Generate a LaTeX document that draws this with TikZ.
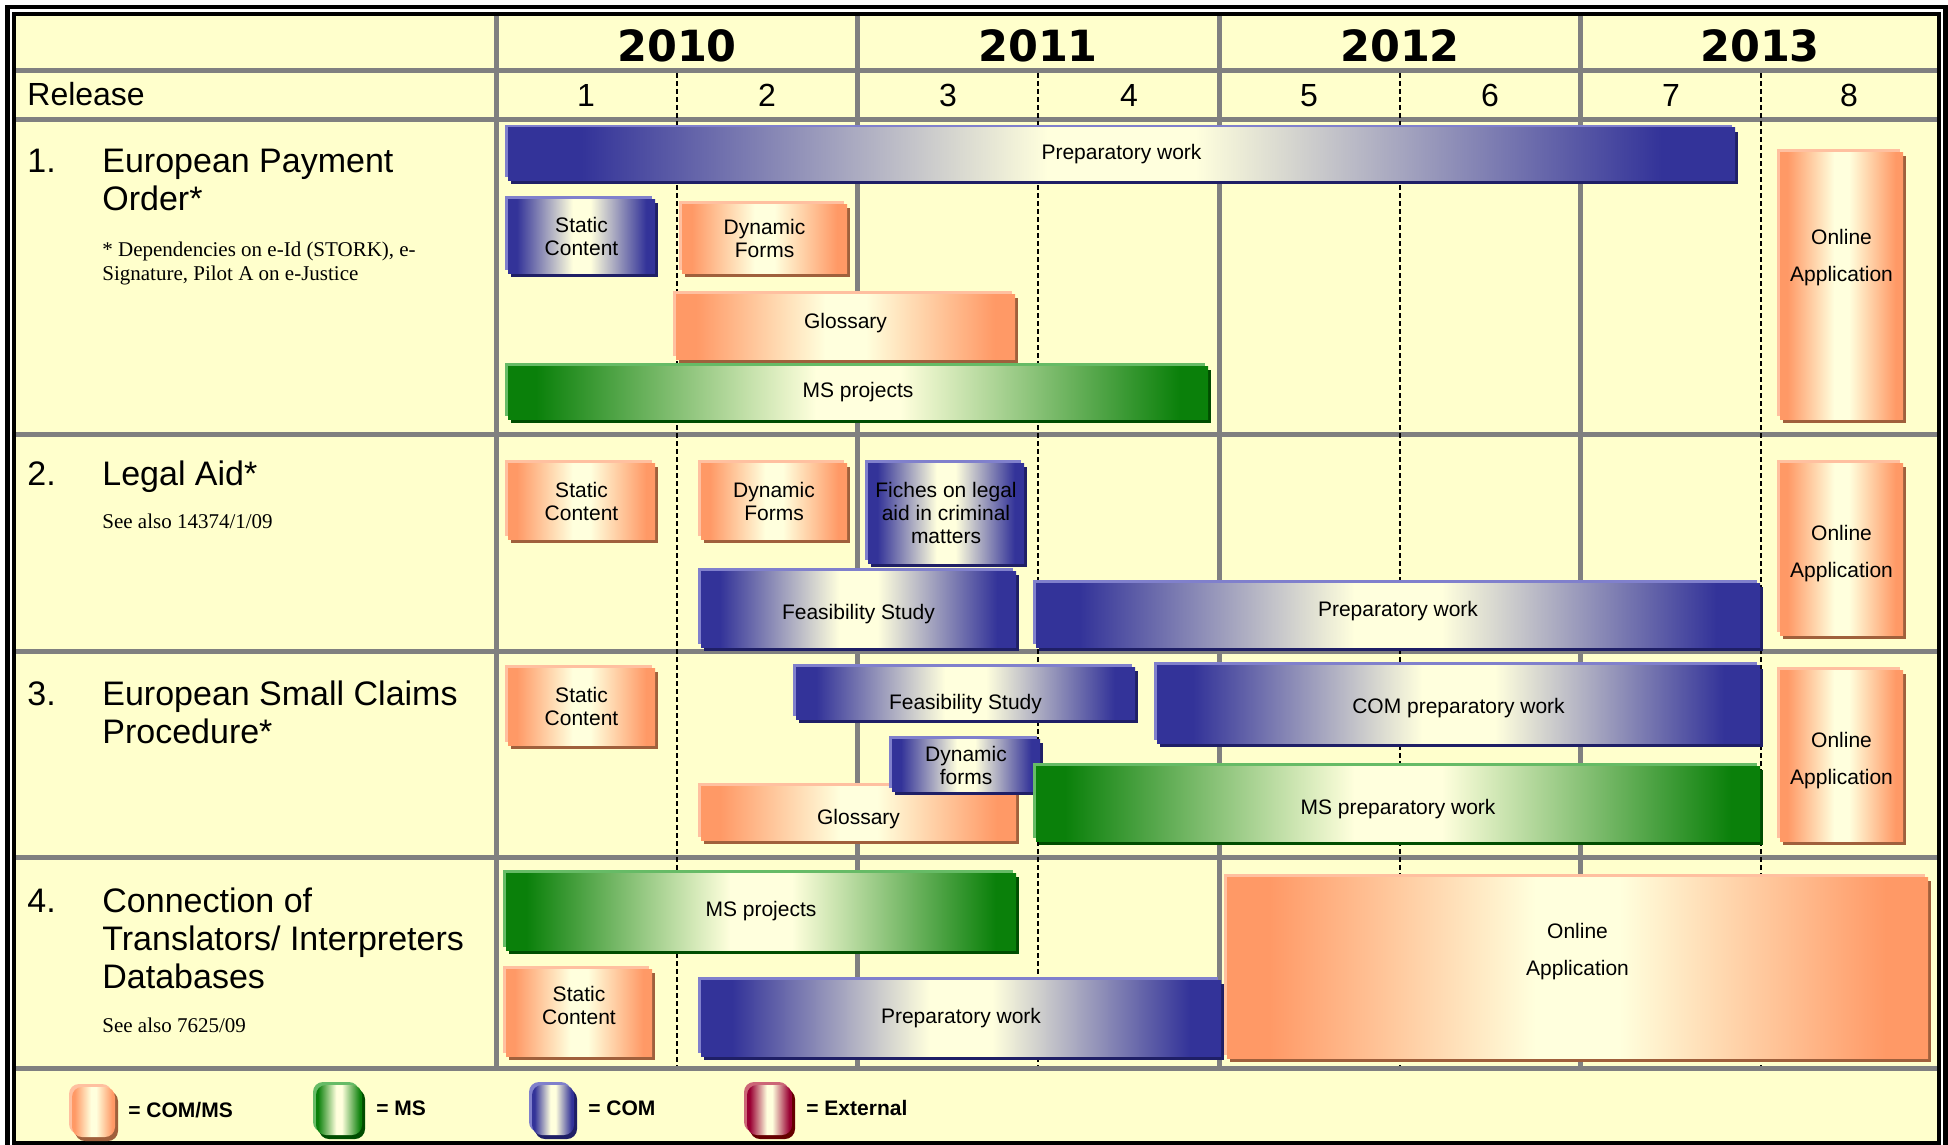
\documentclass[tikz,border=0pt]{standalone}
\usepackage{fontspec}
\setmainfont{Liberation Sans}
\newfontfamily\notefont{Liberation Serif}
\newfontfamily\yearfont{DejaVu Sans}
\usetikzlibrary{shadows}

\definecolor{bgyellow}{HTML}{FFFFCC}
\definecolor{gridgray}{HTML}{808080}
\definecolor{barlight}{HTML}{FFFFDD}
\definecolor{comblue}{HTML}{333399}
\definecolor{comdark}{HTML}{1F1F66}
\definecolor{comhigh}{HTML}{8080CC}
\definecolor{commsorange}{HTML}{FF9966}
\definecolor{commsdark}{HTML}{A0603C}
\definecolor{commshigh}{HTML}{FFC0A0}
\definecolor{msgreen}{HTML}{0A800A}
\definecolor{msdark}{HTML}{004D00}
\definecolor{mshigh}{HTML}{66BB66}
\definecolor{extred}{HTML}{990033}
\definecolor{extdark}{HTML}{660000}
\definecolor{exthigh}{HTML}{CC6677}

\pgfdeclarehorizontalshading{comshade}{100bp}{color(0bp)=(comblue); color(28bp)=(comblue); color(47bp)=(barlight); color(53bp)=(barlight); color(72bp)=(comblue); color(100bp)=(comblue)}
\pgfdeclarehorizontalshading{commsshade}{100bp}{color(0bp)=(commsorange); color(28bp)=(commsorange); color(47bp)=(barlight); color(53bp)=(barlight); color(72bp)=(commsorange); color(100bp)=(commsorange)}
\pgfdeclarehorizontalshading{msshade}{100bp}{color(0bp)=(msgreen); color(27bp)=(msgreen); color(47bp)=(barlight); color(53bp)=(barlight); color(73bp)=(msgreen); color(100bp)=(msgreen)}
\pgfdeclarehorizontalshading{extshade}{100bp}{color(0bp)=(extred); color(28bp)=(extred); color(47bp)=(barlight); color(53bp)=(barlight); color(72bp)=(extred); color(100bp)=(extred)}

\begin{document}
\begin{tikzpicture}[x=0.5pt,y=-0.5pt,
	gridline/.style={draw=gridgray,line width=2.5pt},
	reldiv/.style={draw=black,line width=1pt,dash pattern=on 2.5pt off 1.5pt},
	taskbar/.style={inner sep=0pt,align=center,font=\fontsize{10.5}{11.5}\selectfont},
	combar/.style={taskbar,shade,shading=comshade,general shadow={shadow xshift=1.5pt,shadow yshift=-2pt,fill=comdark},general shadow={shadow xshift=-1.5pt,shadow yshift=1.5pt,fill=comhigh}},
	commsbar/.style={taskbar,shade,shading=commsshade,general shadow={shadow xshift=1.5pt,shadow yshift=-2pt,fill=commsdark},general shadow={shadow xshift=-1.5pt,shadow yshift=1.5pt,fill=commshigh}},
	msbar/.style={taskbar,shade,shading=msshade,general shadow={shadow xshift=1.5pt,shadow yshift=-2pt,fill=msdark},general shadow={shadow xshift=-1.5pt,shadow yshift=1.5pt,fill=mshigh}},
	extbar/.style={taskbar,shade,shading=extshade,general shadow={shadow xshift=1.5pt,shadow yshift=-2pt,fill=extdark},general shadow={shadow xshift=-1.5pt,shadow yshift=1.5pt,fill=exthigh}},
	onltext/.style={inner sep=0pt,align=center,font=\fontsize{10.5}{11.5}\selectfont},
	rowhead/.style={anchor=base west,inner sep=0pt,align=left,font=\fontsize{17}{19}\selectfont},
	rownote/.style={anchor=base west,inner sep=0pt,align=left,font=\notefont\fontsize{10.5}{12}\selectfont},
	yearlab/.style={anchor=base,inner sep=0pt,font=\yearfont\bfseries\fontsize{21.5}{24}\selectfont},
	rellab/.style={anchor=base,inner sep=0pt,font=\fontsize{16}{18}\selectfont},
	legtext/.style={anchor=base west,inner sep=0pt,font=\bfseries\fontsize{10.5}{12}\selectfont}]
	\useasboundingbox (0,0) rectangle (1948,1145);
	\clip (0,0) rectangle (1948,1145);
	\fill[white] (0,0) rectangle (1948,1145);
	\draw[line width=2.25pt] (7.5,7) rectangle (1945.5,1160);
	\draw[line width=2pt,fill=bgyellow] (14,14) rectangle (1938.5,1143);

	\draw[gridline] (16,70.5) -- (1937,70.5);
	\draw[gridline] (16,119.5) -- (1937,119.5);
	\draw[gridline] (16,434.5) -- (1937,434.5);
	\draw[gridline] (16,651) -- (1937,651);
	\draw[gridline] (16,857.5) -- (1937,857.5);
	\draw[gridline] (16,1068.5) -- (1937,1068.5);
	\draw[gridline] (496,16) -- (496,1068.5);
	\draw[gridline] (857.5,16) -- (857.5,1068.5);
	\draw[gridline] (1219,16) -- (1219,1068.5);
	\draw[gridline] (1580.5,16) -- (1580.5,1068.5);
	\draw[reldiv] (677,73) -- (677,1066);
	\draw[reldiv] (1038,73) -- (1038,1066);
	\draw[reldiv] (1400,73) -- (1400,1066);
	\draw[reldiv] (1761,73) -- (1761,1066);

	\node[yearlab] (y2010) at (677,62) {2010};
	\node[yearlab] (y2011) at (1038,62) {2011};
	\node[yearlab] (y2012) at (1400,62) {2012};
	\node[yearlab] (y2013) at (1760,62) {2013};
	\node[rellab,anchor=base west] (release) at (27,105) {Release};
	\node[rellab] (r1) at (586,107) {1};
	\node[rellab] (r2) at (767,107) {2};
	\node[rellab] (r3) at (948,107) {3};
	\node[rellab] (r4) at (1129,107) {4};
	\node[rellab] (r5) at (1309,107) {5};
	\node[rellab] (r6) at (1490,107) {6};
	\node[rellab] (r7) at (1671,107) {7};
	\node[rellab] (r8) at (1849,107) {8};

	\node[rowhead] (num1) at (27,172) {1.};
	\node[rowhead] (epo) at (102,210) {European Payment\\Order*};
	\node[rownote] (eponote) at (102,280) {* Dependencies on e-Id (STORK), e-\\Signature, Pilot A on e-Justice};
	\node[rowhead] (num2) at (27,485) {2.};
	\node[rowhead] (aid) at (102,485) {Legal Aid*};
	\node[rownote] (aidnote) at (102,528) {See also 14374/1/09};
	\node[rowhead] (num3) at (27,705) {3.};
	\node[rowhead] (escp) at (102,743) {European Small Claims\\Procedure*};
	\node[rowhead] (num4) at (27,912) {4.};
	\node[rowhead] (cti) at (102,988) {Connection of\\Translators/ Interpreters\\Databases};
	\node[rownote] (ctinote) at (102,1032) {See also 7625/09};

	\node[combar,minimum width=613.5pt,minimum height=26pt] (prep1) at (1121.5,154) {Preparatory work};
	\node[combar,minimum width=73.5pt,minimum height=37pt] (stat1) at (581.5,236) {Static\\Content};
	\node[commsbar,minimum width=82.5pt,minimum height=34.5pt] (dyn1) at (764.5,238.5) {Dynamic\\Forms};
	\node[commsbar,minimum width=169.5pt,minimum height=32.5pt,text depth=6pt] (glos1) at (845.5,326.5) {Glossary};
	\node[msbar,minimum width=350pt,minimum height=26.5pt] (msp1) at (858,392.5) {MS projects};
	\node[commsbar,minimum width=61.5pt,minimum height=133.5pt,label={[onltext,yshift=14pt]center:Online\\[7pt]Application}] (onl1) at (1841.5,285.5) {};

	\node[commsbar,minimum width=73.5pt,minimum height=38pt] (stat2) at (581.5,501) {Static\\Content};
	\node[commsbar,minimum width=73pt,minimum height=38pt] (dyn2) at (774,501) {Dynamic\\Forms};
	\node[combar,minimum width=78pt,minimum height=50pt] (fich2) at (946,513) {Fiches on legal\\aid in criminal\\matters};
	\node[combar,minimum width=157.5pt,minimum height=38pt,text height=12.7pt] (feas2) at (858.5,609) {Feasibility Study};
	\node[combar,minimum width=362pt,minimum height=32pt,text depth=6pt] (prep2) at (1398,615) {Preparatory work};
	\node[commsbar,minimum width=61.5pt,minimum height=86pt,label={[onltext,yshift=-2.5pt]center:Online\\[7pt]Application}] (onl2) at (1841.5,549) {};

	\node[commsbar,minimum width=73.5pt,minimum height=38.5pt] (stat3) at (581.5,706.5) {Static\\Content};
	\node[combar,minimum width=169.5pt,minimum height=26pt,text height=18.5pt] (feas3) at (965.5,693) {Feasibility Study};
	\node[combar,minimum width=301.5pt,minimum height=39pt,text height=11.7pt] (comp3) at (1458.5,704) {COM preparatory work};
	\node[commsbar,minimum width=157.5pt,minimum height=27pt,text height=14pt] (glos3) at (858.5,813) {Glossary};
	\node[combar,minimum width=74pt,minimum height=26pt] (dyn3) at (966,765) {Dynamic\\forms};
	\node[msbar,minimum width=362pt,minimum height=37.5pt,text height=13pt] (msp3) at (1398,803.5) {MS preparatory work};
	\node[commsbar,minimum width=61.5pt,minimum height=85.5pt,label={[onltext,yshift=-2.5pt]center:Online\\[7pt]Application}] (onl3) at (1841.5,755.5) {};

	\node[msbar,minimum width=255pt,minimum height=38.5pt] (msp4) at (761,911.5) {MS projects};
	\node[commsbar,minimum width=73pt,minimum height=43.5pt,text depth=7.5pt] (stat4) at (579,1012.5) {Static\\Content};
	\node[combar,minimum width=260pt,minimum height=38pt] (prep4) at (961,1018) {Preparatory work};
	\node[commsbar,minimum width=350.5pt,minimum height=90.5pt,label={[onltext,yshift=8pt]center:Online\\[7pt]Application}] (onl4) at (1577.5,967.5) {};

	\node[commsbar,rounded corners=5pt,minimum width=21.5pt,minimum height=25pt] (legcomms) at (93.5,1112) {};
	\node[legtext] (legcommstext) at (128,1117) {= COM/MS};
	\node[msbar,rounded corners=5pt,minimum width=23pt,minimum height=25pt] (legms) at (339,1110) {};
	\node[legtext] (legmstext) at (376,1115) {= MS};
	\node[combar,rounded corners=5pt,minimum width=21pt,minimum height=25pt] (legcom) at (553,1110) {};
	\node[legtext] (legcomtext) at (588,1115) {= COM};
	\node[extbar,rounded corners=5pt,minimum width=22.5pt,minimum height=25pt] (legext) at (769.5,1110) {};
	\node[legtext] (legexttext) at (806,1115) {= External};
\end{tikzpicture}
\end{document}
